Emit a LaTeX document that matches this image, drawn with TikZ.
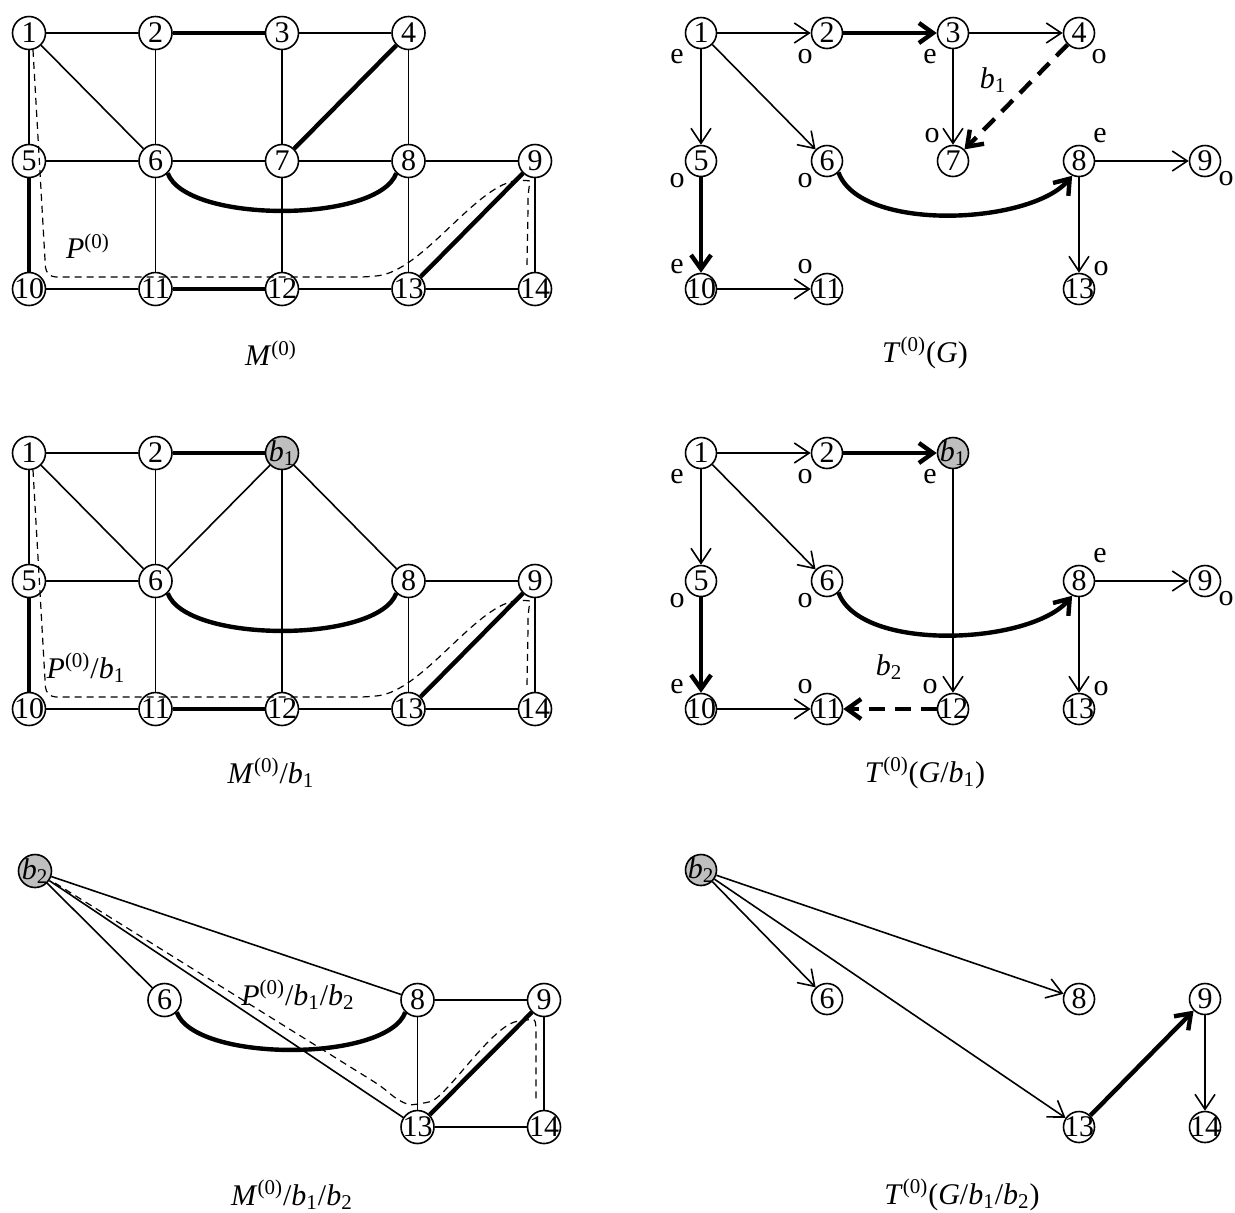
\documentclass[tikz,border=0pt]{standalone}
\usepackage{fontspec}
\setmainfont{Liberation Serif}
\usetikzlibrary{arrows.meta,calc}
\newcommand{\bsub}[1]{\textit{b}\textsubscript{#1}}
\newcommand{\zsup}{\textsuperscript{(0)}}
\tikzset{
  vtx/.style={draw,circle,line width=0.8pt,minimum size=16.5pt,inner sep=-1pt},
  tvtx/.style={vtx,minimum size=15.5pt,inner sep=-1.5pt},
  blossom/.style={fill=black!25},
  edge/.style={line width=0.8pt},
  match/.style={line width=2.2pt},
  arc/.style={line width=0.8pt,-{Straight Barb[length=7.5pt,width=10pt]}},
  marc/.style={line width=2.2pt,-{Straight Barb[length=7pt,width=10pt]}},
  bud/.style={marc,dash pattern=on 8pt off 5pt},
  augpath/.style={line width=0.6pt,dash pattern=on 3.5pt off 2.5pt,rounded corners=5pt},
  lbl/.style={inner sep=0pt}
}

\begin{document}
\begin{tikzpicture}[x=0.5pt,y=-0.5pt,font=\fontsize{15}{18}\selectfont]
  \useasboundingbox (0,0) rectangle (1235,1212);

  % M^(0)
  \foreach \n/\i/\j in {1/0/0,2/1/0,3/2/0,4/3/0,5/0/1,6/1/1,7/2/1,8/3/1,9/4/1,
    10/0/2,11/1/2,12/2/2,13/3/2,14/4/2}
    \node[vtx] (A\n) at (29+126.5*\i,33+128*\j) {\n};
  \foreach \a/\b in {1/2,3/4,1/5,1/6,2/6,3/7,4/8,5/6,6/7,7/8,8/9,6/11,7/12,8/13,9/14,10/11,12/13,13/14}
    \draw[edge] (A\a) -- (A\b);
  \foreach \a/\b in {2/3,4/7,5/10,11/12,9/13}
    \draw[match] (A\a) -- (A\b);
  \draw[match] (A6.-45) to[out=-70,in=-110,looseness=0.6] (A8.-135);
  \draw[augpath] ($(A1)+(4,17)$) -- ($(A10)+(17,-12)$) -- ($(A13)+(-40,-12)$)
    .. controls ($(A13)+(13,-19)$) and ($(A9)+(-65,33)$) .. ($(A9)+(-15,18)$)
    .. controls ($(A9)+(-5,20)$) and ($(A9)+(-7,33)$) .. ($(A9)+(-7,48)$)
    -- ($(A14)+(-8,-24)$);
  \node[lbl] (Apath) at (88,246) {\textit{P}\zsup};
  \node[lbl] (Acap) at (271,353) {\textit{M}\zsup};

  % T^(0)(G)
  \foreach \n/\i/\j in {1/0/0,2/1/0,3/2/0,4/3/0,5/0/1,6/1/1,7/2/1,8/3/1,9/4/1,
    10/0/2,11/1/2,13/3/2}
    \node[tvtx] (B\n) at (701+126*\i,33+128*\j) {\n};
  \foreach \a/\b in {1/2,3/4,1/5,1/6,3/7,8/9,8/13,10/11}
    \draw[arc] (B\a) -- (B\b);
  \foreach \a/\b in {2/3,5/10}
    \draw[marc] (B\a) -- (B\b);
  \draw[marc] (B6.-45) to[out=-70,in=-130,looseness=0.7] (B8.-115);
  \draw[bud] (B4) -- (B7);
  \foreach \n/\dx/\dy/\t in {1/-24/24/e,2/-22/24/o,3/-23/24/e,4/20/24/o,5/-24/20/o,6/-22/20/o,
    7/-21/-25/o,8/21/-25/e,9/21/18/o,10/-24/-22/e,11/-22/-22/o,13/22/-20/o}
    \node[lbl] at ($(B\n)+(\dx,\dy)$) {\t};
  \node[lbl] (Bbud) at (993,80) {\bsub1};
  \node[lbl] (Bcap) at (925,353) {\textit{T}\zsup(\textit{G})};

  % M^(0)/b1
  \foreach \n/\i/\j in {1/0/0,2/1/0,5/0/1,6/1/1,8/3/1,9/4/1,
    10/0/2,11/1/2,12/2/2,13/3/2,14/4/2}
    \node[vtx] (C\n) at (29+126.5*\i,453+128*\j) {\n};
  \node[vtx,blossom] (Cb) at (29+126.5*2,453) {\bsub1};
  \foreach \a/\b in {1/2,1/5,1/6,2/6,b/6,b/12,b/8,5/6,8/9,6/11,8/13,9/14,10/11,12/13,13/14}
    \draw[edge] (C\a) -- (C\b);
  \foreach \a/\b in {2/b,5/10,11/12,9/13}
    \draw[match] (C\a) -- (C\b);
  \draw[match] (C6.-45) to[out=-70,in=-110,looseness=0.6] (C8.-135);
  \draw[augpath] ($(C1)+(4,17)$) -- ($(C10)+(17,-12)$) -- ($(C13)+(-40,-12)$)
    .. controls ($(C13)+(13,-19)$) and ($(C9)+(-65,33)$) .. ($(C9)+(-15,18)$)
    .. controls ($(C9)+(-5,20)$) and ($(C9)+(-7,33)$) .. ($(C9)+(-7,48)$)
    -- ($(C14)+(-8,-24)$);
  \node[lbl] (Cpath) at (86,668) {\textit{P}\zsup/\bsub1};
  \node[lbl] (Ccap) at (271,773) {\textit{M}\zsup/\bsub1};

  % T^(0)(G/b1)
  \foreach \n/\i/\j in {1/0/0,2/1/0,5/0/1,6/1/1,8/3/1,9/4/1,
    10/0/2,11/1/2,12/2/2,13/3/2}
    \node[tvtx] (D\n) at (701+126*\i,453+128*\j) {\n};
  \node[tvtx,blossom] (Db) at (701+126*2,453) {\bsub1};
  \foreach \a/\b in {1/2,1/5,1/6,b/12,8/9,8/13,10/11}
    \draw[arc] (D\a) -- (D\b);
  \foreach \a/\b in {2/b,5/10}
    \draw[marc] (D\a) -- (D\b);
  \draw[marc] (D6.-45) to[out=-70,in=-130,looseness=0.7] (D8.-115);
  \draw[bud] (D12) -- (D11);
  \foreach \n/\dx/\dy/\t in {1/-24/24/e,2/-22/24/o,b/-23/24/e,5/-24/20/o,6/-22/20/o,
    8/21/-25/e,9/21/18/o,10/-24/-22/e,11/-22/-22/o,12/-23/-22/o,13/22/-20/o}
    \node[lbl] at ($(D\n)+(\dx,\dy)$) {\t};
  \node[lbl] (Dbud) at (889,667) {\bsub2};
  \node[lbl] (Dcap) at (925,773) {\textit{T}\zsup(\textit{G}/\bsub1)};

  % M^(0)/b1/b2
  \node[vtx,blossom] (Eb) at (35,871) {\bsub2};
  \foreach \n/\i/\j in {6/1/0,8/3/0,9/4/0,13/3/1,14/4/1}
    \node[vtx] (E\n) at (38+126.5*\i,1000+127*\j) {\n};
  \foreach \a/\b in {b/6,b/8,b/13,8/9,8/13,9/14,13/14}
    \draw[edge] (E\a) -- (E\b);
  \draw[match] (E9) -- (E13);
  \draw[match] (E6.-45) to[out=-70,in=-110,looseness=0.6] (E8.-135);
  \draw[augpath] ($(Eb)+(20,12)$) -- ($(E13)+(-35,-40)$)
    .. controls ($(E13)+(-18,-25)$) and ($(E13)+(-8,-22)$) .. ($(E13)+(3,-23)$)
    .. controls ($(E13)+(28,-29)$) and ($(E9)+(-55,30)$) .. ($(E9)+(-20,19)$)
    .. controls ($(E9)+(-8,20)$) and ($(E9)+(-8,30)$) .. ($(E9)+(-8,46)$)
    -- ($(E14)+(-8,-24)$);
  \node[lbl] (Epath) at (298,995) {\textit{P}\zsup/\bsub1/\bsub2};
  \node[lbl] (Ecap) at (292,1195) {\textit{M}\zsup/\bsub1/\bsub2};

  % T^(0)(G/b1/b2)
  \node[tvtx,blossom] (Fb) at (701,870) {\bsub2};
  \foreach \n/\i/\j in {6/1/0,8/3/0,9/4/0,13/3/1,14/4/1}
    \node[tvtx] (F\n) at (701+126*\i,999+128*\j) {\n};
  \foreach \a/\b in {b/6,b/8,b/13,9/14}
    \draw[arc] (F\a) -- (F\b);
  \draw[marc] (F13) -- (F9);
  \node[lbl] (Fcap) at (962,1195) {\textit{T}\zsup(\textit{G}/\bsub1/\bsub2)};
\end{tikzpicture}
\end{document}
